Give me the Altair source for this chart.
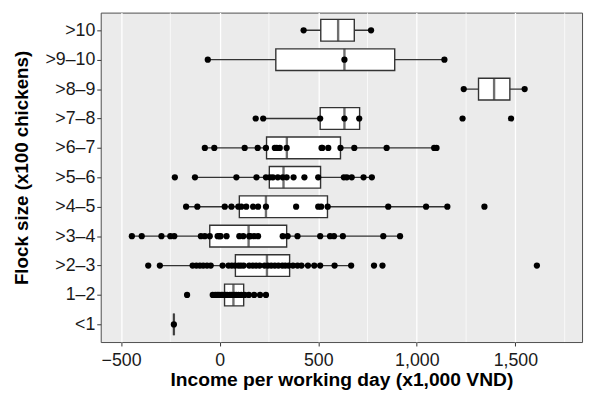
import altair as alt
import pandas as pd

cats = [">10", ">9–10", ">8–9", ">7–8", ">6–7", ">5–6", ">4–5", ">3–4", ">2–3", "1–2", "<1"]
q1 = [513, 285, 1313, 510, 238, 252, 100, -50, 80, 25, -232]
med = [601, 633, 1392, 633, 341, 324, 235, 147, 240, 70, -232]
q3 = [683, 888, 1472, 710, 613, 512, 547, 340, 355, 122, -232]
lo = [426, -60, 1238, 221, -75, -125, -170, -445, -303, -35, -232]
hi = [768, 1140, 1547, 708, 1100, 772, 1155, 915, 667, 235, -232]

pts_gt10 = [426, 768]
pts_9_10 = [-60, 633, 1140]
pts_8_9 = [1238, 1547]
pts_7_8 = [183, 221, 510, 633, 708, 1232, 1478]
pts_6_7 = [-75, -27, 127, 193, 235, 280, 290, 305, 340, 517, 521, 551, 613, 683, 847, 1088, 1100]
pts_5_6 = [-227, -125, 85, 187, 235, 255, 270, 295, 320, 340, 375, 430, 500, 630, 645, 670, 730, 772]
pts_4_5 = [-170, -113, 26, 60, 95, 110, 135, 170, 195, 235, 388, 500, 515, 548, 855, 1047, 1155, 1343]
pts_3_4 = [-445, -395, -295, -250, -230, -95, -75, -50, -10, 0, 5, 35, 100, 120, 150, 155, 175,
           195, 320, 345, 395, 510, 560, 580, 625, 830, 915]
pts_2_3 = [-362, -303, -137, -118, -100, -83, -64, -45, 15, 45, 62, 78, 95, 108, 122, 150, 168,
           185, 203, 228, 245, 262, 280, 298, 318, 333, 350, 372, 395, 415, 448, 480, 510, 583,
           667, 783, 826, 1609]
pts_1_2 = [-165, -35, -22, -12, -3, 8, 17, 29, 38, 52, 61, 73, 84, 96, 110, 127, 148, 175, 205, 235]
pts_lt1 = [-232]

minor_grid = [-250, 250, 750, 1250, 1750]
x_ticks = [-500, 0, 500, 1000, 1500]

all_pts = [pts_gt10, pts_9_10, pts_8_9, pts_7_8, pts_6_7, pts_5_6, pts_4_5, pts_3_4, pts_2_3, pts_1_2, pts_lt1]

box_df = pd.DataFrame({"cat": cats, "q1": q1, "med": med, "q3": q3, "lo": lo, "hi": hi})
pts_df = pd.DataFrame([{"cat": c, "v": v} for c, ps in zip(cats, all_pts) for v in ps])
grid_df = pd.DataFrame({"g": minor_grid})

FONT = "Liberation Sans"
xscale = alt.Scale(domain=[-603, 1838], nice=False, zero=False)
yscale = alt.Scale(type="point", domain=cats, padding=0.6)

x_axis = alt.Axis(values=x_ticks, format=",.0f", title="Income per working day (x1,000 VND)",
                  labelFontSize=18, titleFontSize=19.5, titleFontWeight="bold", labelColor="#1a1a1a",
                  titleColor="#000", tickColor="#333", tickSize=4, domain=False, gridColor="white",
                  gridWidth=1.3, labelPadding=6, titlePadding=1, labelFont=FONT, titleFont=FONT)
y_axis = alt.Axis(title="Flock size (x100 chickens)", labelFontSize=18, titleFontSize=19,
                  titleFontWeight="bold", labelColor="#1a1a1a", titleColor="#000", tickColor="#333",
                  tickSize=4, domain=False, gridColor="white", gridWidth=1.3, labelPadding=2,
                  titleX=-70, titleY=157, labelFont=FONT, titleFont=FONT)

minor = alt.Chart(grid_df).mark_rule(color="white", strokeWidth=0.7).encode(
    x=alt.X("g:Q", scale=xscale, axis=x_axis)
)
whisk = alt.Chart(box_df).mark_rule(color="#333", strokeWidth=1.3).encode(
    x=alt.X("lo:Q", scale=xscale, axis=x_axis), x2="hi:Q",
    y=alt.Y("cat:N", scale=yscale, sort=cats, axis=y_axis)
)
box = alt.Chart(box_df).mark_bar(fill="white", stroke="#333", strokeWidth=1.4, size=22).encode(
    x=alt.X("q1:Q", scale=xscale), x2="q3:Q",
    y=alt.Y("cat:N", scale=yscale, sort=cats)
)
medl = alt.Chart(box_df).mark_tick(color="#333", orient="vertical", size=22, thickness=2.4).encode(
    x=alt.X("med:Q", scale=xscale),
    y=alt.Y("cat:N", scale=yscale, sort=cats)
)
pts = alt.Chart(pts_df).mark_circle(color="black", opacity=1, size=40).encode(
    x=alt.X("v:Q", scale=xscale),
    y=alt.Y("cat:N", scale=yscale, sort=cats)
)

chart = alt.layer(minor, whisk, box, medl, pts).properties(
    width=488, height=334,
    autosize=alt.AutoSizeParams(type="none"),
    padding={"left": 94, "top": 2, "right": 3, "bottom": 50},
    background="white",
).configure_view(fill="#EBEBEB", stroke="#4d4d4d", strokeWidth=1)

chart.save("out.html", embed_options={"renderer": "svg", "actions": False})
